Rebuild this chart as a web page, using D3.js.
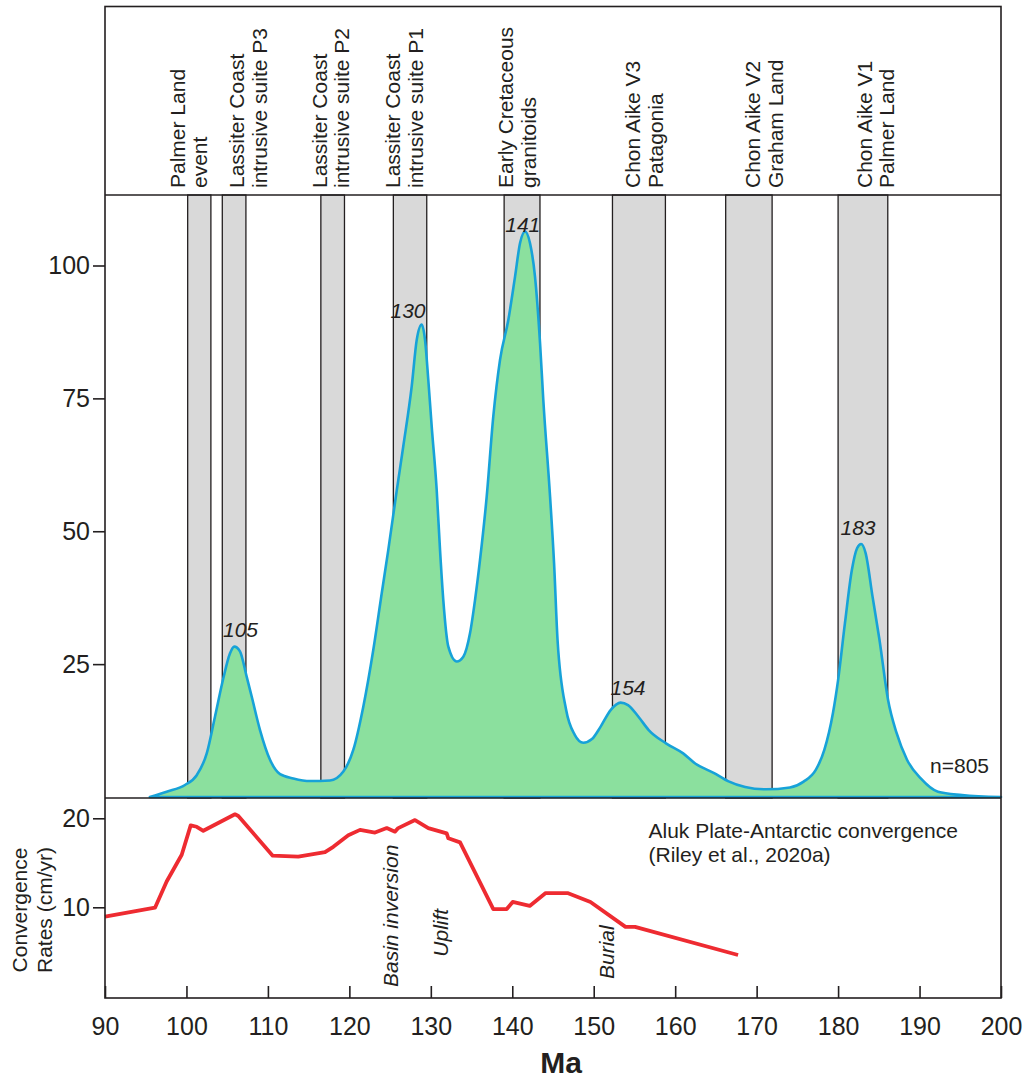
<!DOCTYPE html>
<html>
<head>
<meta charset="utf-8">
<script src="https://cdn.jsdelivr.net/npm/d3@7"></script>
<style>
  html, body { margin: 0; padding: 0; background: #fff; }
  svg { display: block; font-family: "Liberation Sans", Arial, sans-serif; }
</style>
</head>
<body>
<svg id="chart" width="1029" height="1082"></svg>
<script>
// ---------------- DATA ----------------
const xTicks = [90, 100, 110, 120, 130, 140, 150, 160, 170, 180, 190, 200];
const mainYTicks = [25, 50, 75, 100];
const rateYTicks = [10, 20];

// age-event bands (Ma)
const bandNames1 = ["Palmer Land", "Lassiter Coast", "Lassiter Coast", "Lassiter Coast", "Early Cretaceous", "Chon Aike V3", "Chon Aike V2", "Chon Aike V1"];
const bandNames2 = ["event", "intrusive suite P3", "intrusive suite P2", "intrusive suite P1", "granitoids", "Patagonia", "Graham Land", "Palmer Land"];
const bandStart = [100.15, 104.4, 116.5, 125.4, 139.0, 152.3, 166.2, 180.0];
const bandEnd   = [103.0, 107.3, 119.4, 129.5, 143.4, 158.8, 171.9, 186.1];
const bandLabelMa = [99.82, 107.07, 117.22, 126.22, 140.13, 155.72, 170.45, 184.13];

// probability density curve (Ma, relative probability)
const densityMa = [95.5, 97.57, 99.82, 101.26, 102.49, 103.5, 104.52, 105.35, 105.87, 106.57, 107.4, 108.01, 109.03, 110.26, 111.49, 113.12, 115.17, 117.62, 119.26, 120.48, 121.71, 122.94, 123.97, 124.78,
  125.81, 126.62, 127.65, 128.27, 128.88, 129.29, 129.69, 130.11, 130.72,
  131.13, 131.53, 132.15, 133.18, 133.99, 134.81, 135.43, 136.04,
  136.86, 137.67, 138.5, 139.52, 140.34, 140.95, 141.57, 142.18, 142.79, 143.41, 143.81, 144.64,
  145.13, 145.56, 146.61, 147.67, 148.72, 149.78, 150.83, 152.1, 153.29, 154.21, 155.49, 156.75, 158.87, 160.98, 162.46, 164.78, 166.48, 168.59, 171.13, 174.09, 175.77, 177.26, 178.31, 179.37, 180.0, 180.84, 181.69, 182.33, 182.83, 183.38, 184.23, 185.08, 186.13, 187.19, 188.46, 190.15, 192.26, 195.22, 200.0];
const densityVal = [0.0, 1.0, 2.26, 4.1, 8.2, 15.1, 22.3, 27.05, 28.3, 27.4, 22.6, 18.9, 12.6, 7.0, 4.3, 3.5, 3.0, 3.1, 4.8, 8.85, 17.0, 27.7, 38.3, 46.5,
  57.6, 66.0, 77.2, 86.0, 88.9, 86.0, 78.5, 69.7, 57.8,
  46.5, 37.1, 28.3, 25.5, 26.4, 30.8, 37.1, 44.6,
  56.5, 71.6, 82.3, 89.8, 97.9, 104.2, 106.4, 104.2, 97.9, 85.4, 74.7, 56.5,
  44.0, 29.5, 16.4, 11.7, 10.2, 10.9, 13.2, 16.4, 17.75, 17.3, 15.1, 12.6, 10.1, 8.2, 6.3, 4.5, 3.0, 1.9, 1.45, 1.8, 2.9, 5.1, 8.85, 15.8, 22.0, 32.7, 42.7, 46.8, 47.6, 45.9, 37.7, 29.6, 18.3, 12.0, 7.0, 3.5, 1.0, 0.38, 0.0];

const peakText = ["105", "130", "141", "154", "183"];
const peakMa   = [106.64, 127.2, 141.29, 154.21, 182.45];
const peakVal  = [30.05, 90.07, 106.3, 19.2, 49.3];

// Aluk Plate-Antarctic convergence rate (cm/yr)
const rateMa  = [90.0, 96.14, 97.57, 99.42, 100.52, 101.26, 102.07, 105.96, 106.37, 110.59, 113.73, 117.01, 118.03, 119.87, 121.31, 123.15, 124.59, 125.6, 126.0, 128.06, 129.69, 131.95, 132.15, 133.59, 137.67, 139.32, 140.05, 142.14, 144.1, 146.78, 149.6, 153.9, 155.07, 167.72];
const rateVal = [8.94, 9.96, 12.9, 15.9, 19.2, 19.05, 18.6, 20.45, 20.26, 15.8, 15.7, 16.2, 16.8, 18.1, 18.7, 18.4, 18.9, 18.5, 18.9, 19.8, 18.9, 18.3, 17.75, 17.3, 9.8, 9.8, 10.6, 10.15, 11.6, 11.6, 10.6, 7.8, 7.8, 4.64];

const tectonicText = ["Basin inversion", "Uplift", "Burial"];
const tectonicMa   = [125.97, 132.15, 152.5];
const tectonicVal  = [1.04, 4.45, 1.94];

const nLabel = "n=805";
const sourceLines = ["Aluk Plate-Antarctic convergence", "(Riley et al., 2020a)"];
const yTitleLines = ["Convergence", "Rates (cm/yr)"];
const xTitle = "Ma";

// ---------------- LAYOUT ----------------
const L = 105, R = 1001, TOP = 6.5, LAB_B = 195, MAIN_B = 798, BOT = 998;
const ink = "#231f20";
const svg = d3.select("#chart");

const x = d3.scaleLinear().domain([90, 200]).range([L, R]);
const yMain = d3.scaleLinear().domain([0, 100]).range([797, 265.5]);
const yRate = d3.scaleLinear().domain([10, 20]).range([907.3, 818.3]);

// bands
const bands = d3.range(bandStart.length);
svg.append("g").selectAll("rect").data(bands).join("rect")
  .attr("x", i => x(bandStart[i]))
  .attr("y", LAB_B)
  .attr("width", i => x(bandEnd[i]) - x(bandStart[i]))
  .attr("height", MAIN_B - LAB_B)
  .attr("fill", "#d9d9d9")
  .attr("stroke", ink)
  .attr("stroke-width", 1.3);

// density area
const dens = densityMa.map((m, i) => [m, densityVal[i]]);
const area = d3.area()
  .x(d => x(d[0]))
  .y0(yMain(0))
  .y1(d => yMain(d[1]))
  .curve(d3.curveMonotoneX);
svg.append("path")
  .datum(dens)
  .attr("d", area)
  .attr("fill", "#8be09e")
  .attr("stroke", "#17a2d8")
  .attr("stroke-width", 2.6)
  .attr("stroke-linejoin", "round");

// peak labels
svg.append("g").selectAll("text").data(peakText).join("text")
  .attr("x", (d, i) => x(peakMa[i]))
  .attr("y", (d, i) => yMain(peakVal[i]))
  .attr("text-anchor", "middle")
  .attr("font-size", 21)
  .attr("font-style", "italic")
  .attr("fill", ink)
  .text(d => d);

svg.append("text")
  .attr("x", 989).attr("y", 772.7)
  .attr("text-anchor", "end")
  .attr("font-size", 21)
  .attr("fill", ink)
  .text(nLabel);

// band labels (rotated)
const lab = svg.append("g").selectAll("g").data(bands).join("g")
  .attr("transform", i => `translate(${x(bandLabelMa[i])},188) rotate(-90)`);
lab.append("text")
  .attr("font-size", 21).attr("fill", ink)
  .attr("x", 0).attr("y", 0)
  .text(i => bandNames1[i]);
lab.append("text")
  .attr("font-size", 21).attr("fill", ink)
  .attr("x", 0).attr("y", 22.5)
  .text(i => bandNames2[i]);

// convergence line
const rate = rateMa.map((m, i) => [m, rateVal[i]]);
svg.append("path")
  .datum(rate)
  .attr("d", d3.line().x(d => x(d[0])).y(d => yRate(d[1])))
  .attr("fill", "none")
  .attr("stroke", "#ee2b31")
  .attr("stroke-width", 3.8)
  .attr("stroke-linejoin", "round");

// tectonic annotations
svg.append("g").selectAll("text").data(tectonicText).join("text")
  .attr("transform", (d, i) => `translate(${x(tectonicMa[i])},${yRate(tectonicVal[i])}) rotate(-90)`)
  .attr("font-size", 21)
  .attr("font-style", "italic")
  .attr("fill", ink)
  .text(d => d);

// source text
svg.append("g").selectAll("text").data(sourceLines).join("text")
  .attr("x", 648.5)
  .attr("y", (d, i) => 838 + i * 24)
  .attr("font-size", 21)
  .attr("fill", ink)
  .text(d => d);

// frame
svg.append("rect")
  .attr("x", L).attr("y", TOP).attr("width", R - L).attr("height", BOT - TOP)
  .attr("fill", "none").attr("stroke", ink).attr("stroke-width", 1.6);
[LAB_B, MAIN_B].forEach(yy => {
  svg.append("line").attr("x1", L).attr("x2", R).attr("y1", yy).attr("y2", yy)
    .attr("stroke", ink).attr("stroke-width", 1.6);
});

// axes
function styleAxis(g) {
  g.select(".domain").remove();
  g.selectAll(".tick line").attr("stroke", ink).attr("stroke-width", 1.6);
  g.selectAll(".tick text").attr("fill", ink).attr("font-size", 25)
    .attr("font-family", "\"Liberation Sans\", Arial, sans-serif");
}
svg.append("g")
  .attr("transform", `translate(0,${BOT})`)
  .call(d3.axisBottom(x).tickValues(xTicks).tickSizeInner(-12).tickSizeOuter(0).tickPadding(19).tickFormat(d3.format("d")))
  .call(styleAxis);
svg.append("g")
  .attr("transform", `translate(${L},0)`)
  .call(d3.axisLeft(yMain).tickValues(mainYTicks).tickSize(12).tickPadding(3))
  .call(styleAxis);
svg.append("g")
  .attr("transform", `translate(${L},0)`)
  .call(d3.axisLeft(yRate).tickValues(rateYTicks).tickSize(12).tickPadding(3))
  .call(styleAxis);

// axis titles
svg.append("g").attr("transform", "translate(26.7,910) rotate(-90)")
  .selectAll("text").data(yTitleLines).join("text")
  .attr("x", 0).attr("y", (d, i) => i * 25)
  .attr("text-anchor", "middle")
  .attr("font-size", 21).attr("fill", ink)
  .text(d => d);

svg.append("text")
  .attr("x", 561).attr("y", 1072.7)
  .attr("text-anchor", "middle")
  .attr("font-size", 30).attr("font-weight", "bold").attr("fill", ink)
  .text(xTitle);
</script>
</body>
</html>
